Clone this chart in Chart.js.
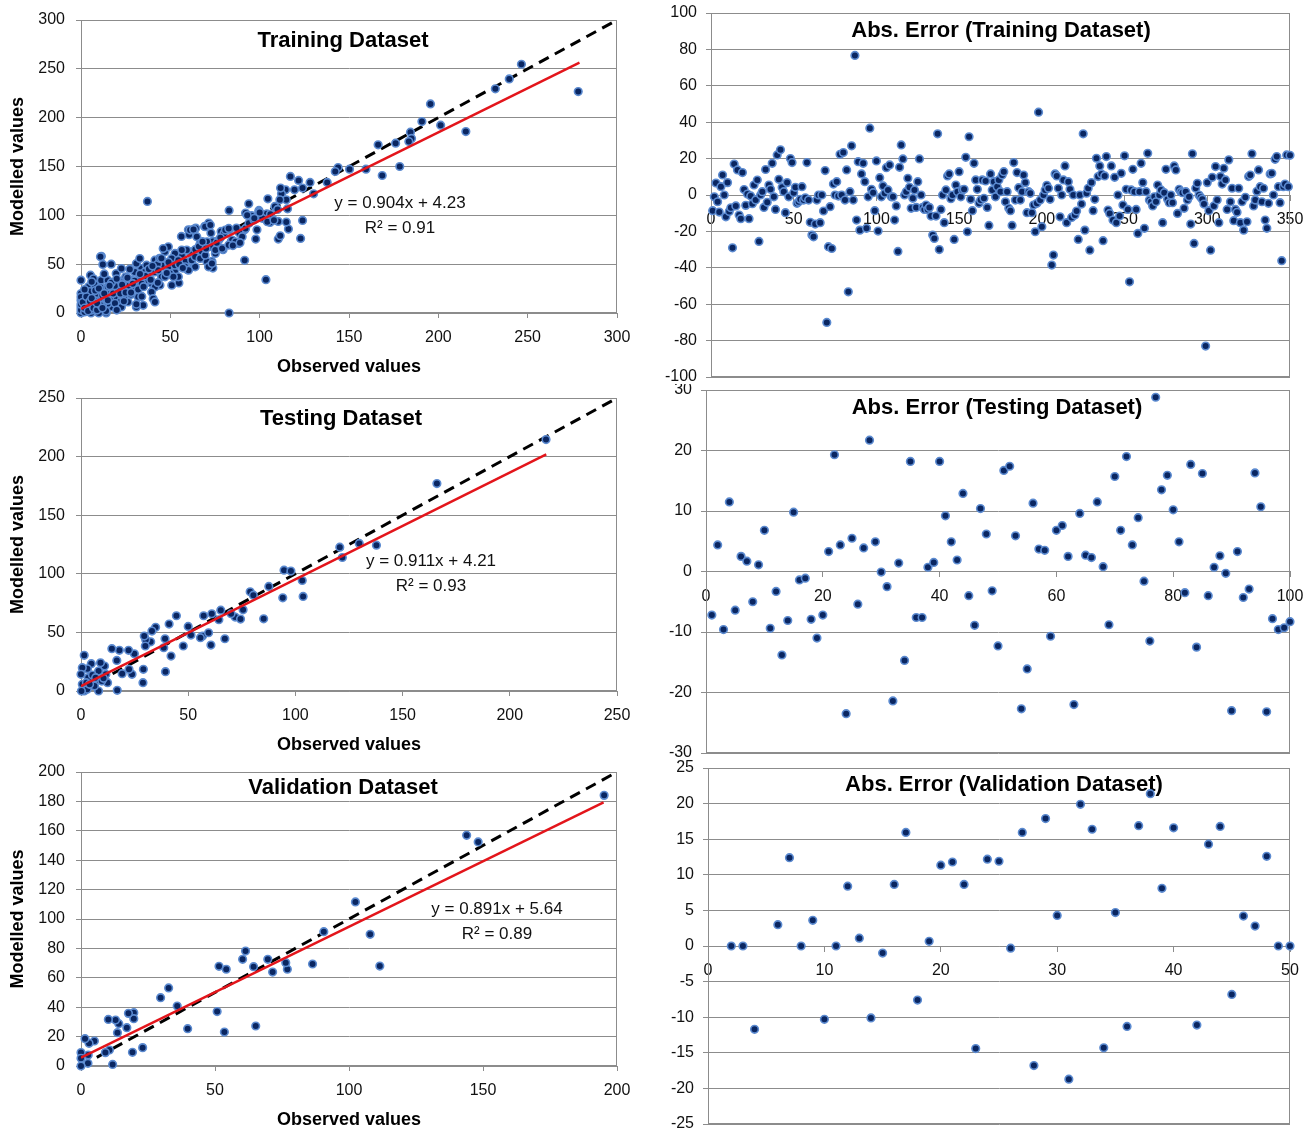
<!DOCTYPE html>
<html>
<head>
<meta charset="utf-8">
<script src="https://cdn.jsdelivr.net/npm/chart.js@4.4.1/dist/chart.umd.min.js"></script>
<style>
  body { margin: 0; background: #fff; }
  #wrap { position: relative; width: 1314px; height: 1131px; overflow: hidden; background: #fff; }
  canvas { position: absolute; }
</style>
</head>
<body>
<div id="wrap">
  <canvas id="trainFit" width="645" height="384" style="left:0;top:0"></canvas>
  <canvas id="testFit" width="645" height="376" style="left:0;top:384px"></canvas>
  <canvas id="valFit" width="645" height="371" style="left:0;top:760px"></canvas>
  <canvas id="trainErrC" width="674" height="384" style="left:640px;top:0"></canvas>
  <canvas id="testErrC" width="674" height="376" style="left:640px;top:384px"></canvas>
  <canvas id="valErrC" width="674" height="371" style="left:640px;top:760px"></canvas>
</div>
<script>
// ---- data ----
// training: observed / modelled
var trainObs = [278.3,246.5,239.7,231.9,195.6,190.8,201.3,215.4,184.4,185,183.5,166.3,176.1,178.4,168.6,159.5,150.3,143.9,142.3,137.8,
  130.2,128.2,124,121.8,122.9,124,117.2,119.5,114.5,112.2,111.7,114.9,115.6,116.1,114.9,111.3,110.4,110.4,111.5,108.5,
  105.8,104.6,103.5,104,99.6,98.5,97.8,95.5,93.9,92.1,91.6,91.6,88.6,82.9,82.9,84.1,82.9,79.5,78.4,73.8,
  72.7,73.3,73.8,70.4,71.5,69.2,64.2,60.1,60.5,56.2,54.8,63.1,59.6,37.2,11.4,
  56.4,61.1,63,64.8,69.5,72.4,66.7,70.5,73.3,77.1,80,80.8,82.7,84.6,88.3,90.2,92.1,94,96.8,99.6,101.5,104.3,
  67.7,75.2,71.4,73.3,63.9,61.1,59.2,56.4,52.6,50.8,48.9,45.1,41.4,37.6,33.8,30.1,26.3,23.5,39.5,45.1,52.6,58.3,62,63.9,66.7,69.5,75.2,79,82.7,86.5,
  10.9,16.9,12.2,5.3,0,4.1,7.5,11.3,15,19.7,22.6,27.3,28.2,31,32.9,36.7,37.6,41.4,42.9,43.2,47,48.9,52.6,54.5,58.3,60.2,54.5,44.2,41.4,39.5,
  40.4,41.4,34.8,32,31,26.3,22.6,20.7,16.9,13.2,9.4,5.6,3.8,0,0,0,0,6.6,7.5,10.3,14.1,17.9,20.7,24.4,32.9,35.7,29.1,18.8,15,1.9,
  14.1,8.5,26.3,31,22.6,47,49.8,51.7,50.8,
  0,0,0,2,4,6,8,10,12,3,5,9,12,11,16,18,21,24,27,30,34,36,28,19,7,13,15,25,38,44,46,49,55,57,64,66,68,70,76,78,85,87,89,93,97,100,106,108,110,
  1,2,3,4,5,6,7,8,9,10,11,13,14,15,17,19,20,22,23,25,26,29,32,33,35,39,40,43,45,48,2,6,9,12,16,20,24,28,31,34];
var trainMod = [226.7,254.7,239.7,229.5,214.1,196,192.3,185.8,185.1,178.7,175.6,172.2,173.9,150,140.8,147.3,147.3,149,144.9,133.7,
  122,133.7,127.9,135.7,76.4,94.8,139.8,126.1,126.1,122,127.9,115.9,106.7,85.9,93.1,115.9,93.8,75.7,79.1,109.1,
  92.7,116.9,34.1,101.6,105,85.2,75.7,99.6,111.8,102.3,85.2,53.9,81.8,0,105,73.3,85.2,64.8,83.5,73.3,
  81.8,52.8,46,52.8,92.1,88.6,86.9,85.2,80.1,78.4,30.7,47.7,44.3,114.2,58,
  59.2,84.9,85.6,78.1,88.4,90.1,71.2,72.9,67.8,74.7,81.5,84.9,86.6,74.7,71.2,78.1,86.6,91.8,95.2,103.8,96.9,93.5,
  62.7,61,47.3,50.7,47.3,62.7,64.4,64.4,61,55.8,47.3,49,42.1,40.4,45.5,42.1,33.6,26.7,30.1,37,42.1,52.4,54.1,57.5,55.8,59.2,64.4,66.1,69.5,72.9,
  57.5,50,49.7,38.7,33.6,26.7,29.5,33.6,33.6,40.4,45.5,44.9,33.6,50.7,55.8,49,33.6,54.1,50,43.8,62.7,67.8,49,54.1,47.3,43.8,37,28.4,26.7,21.6,
  14.7,11.3,7.9,16.4,26.7,21.6,16.4,11.3,6.2,4.5,1,0,2.7,6.2,13,19.9,16.4,19.9,9.6,14.7,21.6,25,30.1,33.6,37,42.1,26.7,16.4,9.6,4.5,
  0,6.2,11.3,6.2,6.2,37,40.4,37,28.4,
  0,3,9,1,8,3,12,0,8,14,22,20,18,26,14,20,24,16,28,33,30,38,19,28,35,40,27,37,45,56,66,52,50,46,65,68,73,66,72,77,69,87,72,100,97,103,101,95,106,
  11,5,17,2,12,15,5,23,3,25,8,20,2,13,31,10,35,20,29,21,36,30,24,40,27,34,48,31,56,41,24,32,10,5,28,3,12,21,9,17];

// testing: observed / modelled
var testObs = [216.9,166,120.7,121.9,129.8,137.8,94.7,97.9,103.2,103.6,94.1,87.6,78.9,80.4,85.2,75.6,71.9,70,74.4,65.2,
  64.3,61,67.1,57.2,56.7,55.7,59.5,60.6,50,51.3,44.5,41.1,42,39.2,38.6,39.4,34.8,33.1,32.5,30.2,
  29.5,30,29.1,28.9,47.7,24.9,23.8,22.4,22.2,19.2,17.9,16.7,14.4,16.9,12.4,11.6,11,9.1,8.2,8.2,
  6.3,4.8,3,1.5,0.6,0,0.6,1.5,2.9,0.2,3.4,5.3,6.8,9.7,2.5,10.5,4];
var testMod = [214.5,177,122.7,113.9,125.9,124.4,103.1,102.3,94.3,80.7,79.5,89.2,84.7,81.8,61.6,69.3,63.1,65.9,61.4,69,
  60.8,65.9,44.6,64.2,46.9,45.5,49.7,39.2,55.1,47.7,64.2,57.1,29.8,44.6,36.9,16.5,54.3,51.1,42,43.8,
  46.9,38.4,18.5,7.1,38.4,31.8,14.2,18.5,34.7,14.8,34.7,26.1,36.1,0.6,7.1,14.2,21.3,24.1,17,0,
  4.3,23.3,19,30.4,19.9,14.2,5.7,0,1.4,0,11.4,13.6,11.4,8.5,7.1,10.8,5.7];

// validation: observed / modelled
var valObs = [195.2,143.9,148.2,102.4,107.9,111.5,90.6,86.4,77,76.4,69.7,71.5,64.4,65.2,61.4,60.3,54.2,51.5,50.8,53.5,
  39.8,35.9,32.7,29.7,23,19.7,19.7,17.7,17.1,19.2,14.1,13.6,12.9,10.2,10.6,9.1,11.8,5,3,1.5,2.7,2.6,0,0,0];
var valMod = [184.1,156.9,152.4,111.6,89.6,68,91.4,69.4,65.8,70.3,72.6,63.9,67.6,27.2,78.2,72.6,65.8,67.8,37,23.1,
  25.4,40.8,53.1,46.5,12.5,36.3,32.2,35.8,26.1,9.3,28.8,22.7,31.3,31.7,10.9,9.1,1.1,17,15.4,18.6,7.5,1.8,9.1,5.2,0];

// fitted lines [slope, intercept], last observed value, R2
var trainFitEq = [0.904, 4.23], trainFitEnd = 279, trainR2 = '0.91';
var testFitEq = [0.911, 4.21], testFitEnd = 217, testR2 = '0.93';
var valFitEq = [0.891, 5.64], valFitEnd = 195, valR2 = '0.89';

// errors (x = record number)
var trainErr = [
  -8.6,-1,6.6,-3.7,-9.4,4.6,11,0,-12,6.8,
  -9,-7,-29,17,-6,13.8,-11,-13,12.3,3,
  -5.7,0.5,-13,-0.5,-4.8,5.5,-2.7,8.2,-25.5,0,1.8,
  -6.8,14,-4,5.5,3.1,17.4,-1,-7.9,22,8.6,
  24.8,4.2,1.8,-9.7,6.8,-1,20,17.8,1.3,4.2,
  -4.6,-3.7,-2.4,4.6,-2.8,-1.5,17.8,-2.8,-15,-22,
  -23,-16,-2.8,0,-15.2,0,-8.8,13.4,-70,-28.4,-6.4,
  -29.4,6,0,7.3,-0.6,22.4,0,23.3,-2.8,13.8,
  -53.2,1.8,27,-2.8,76.7,-13.8,18.3,-19.3,11.6,17.4,
  7.3,-18.3,-1,36.7,3.1,1.3,-8.6,18.7,-19.8,9.5,
  -1,5,0.9,15,2.8,16.5,-1,-1,-13.8,-6,-31,
  15.2,27.5,19.8,0,1.8,9.2,4.2,-7.3,-1.8,2.8,
  -6.8,7.3,19.8,0,-6.8,-7.9,-5.5,-7.9,-6.8,-11.6,
  -22,-23.9,-11.6,33.6,-30,-7.9,0,-15.2,2.8,10.5,
  11.6,-2,0,-24.4,5.5,1.8,12.8,-1,2.8,3.1,20.7,
  -20.2,32,-2.4,-8.6,17.4,8.3,3.1,-4.6,-2.8,8.3,
  -1.8,7.7,-6.8,-16.7,11.6,2.8,7.3,-1,4.6,8.3,
  1.8,11,12.8,-3.7,1.8,-7.3,-8.6,-16.7,17.8,-2.8,
  12.3,4,-2.8,1.8,11,6.8,-9.7,1.8,0.9,-9.7,-5.5,
  -20.2,-4.6,45.5,-2.8,-17.4,0,2.8,5.3,3.7,-2.4,
  -38.5,-33,11.6,10.5,3.7,-12,0,8.3,16,-15.2,
  7.3,3.1,-12.3,0,-11,-8.8,-24.4,0,-5,33.6,
  -19.3,1,3.7,-30.3,6.8,-8.6,-2.4,20.2,10.1,16,11.6,
  -25.1,10.5,21.1,-8.3,-10.1,16,-13.8,9.7,-15.2,0,
  -11.6,11.9,-5.5,21.5,3.1,-7.9,-47.7,2.8,14.1,1.8,
  -7.9,-21.1,1.8,17.4,6.8,-18.3,1.8,22.9,-2.8,-3.7,
  -6,-1,-3.7,5.5,0,2.8,-15.2,1.3,14.1,-2.4,-4.2,
  0,-4.2,16,13.8,-10.1,3.1,1.8,1.3,-7.3,1.8,
  -2.8,-1,-16,22.6,-26.6,3.7,6.4,0,-1.3,-2.4,
  -5,-83,6.8,-8.6,-30.3,9.7,-6,15.6,-2.8,-15.2,
  10.1,6,14.7,8.3,-7.9,19.3,-3.7,3.7,-14.1,-7.9,-9.5,
  3.7,-15.2,-3.7,-19.3,-1.3,-14.7,10.1,11,22.6,-6,
  -2.8,2,13.8,4.6,-3.7,3.7,-13.8,-18.3,-4.6,11.6,11.9,
  0,19.6,21.1,4.6,-4.2,-36.1,4.6,6,22,4.6,21.8];
var testErr = [-7.2,4.4,-9.6,11.5,-6.4,2.5,1.7,-5.0,1.1,6.8,
  -9.4,-3.3,-13.8,-8.1,9.8,-1.4,-1.1,-7.9,-11.0,-7.2,
  3.3,19.3,4.4,-23.5,5.5,-5.4,3.9,21.7,4.9,-0.1,
  -2.5,-21.4,1.4,-14.7,18.2,-7.6,-7.6,0.7,1.5,18.2,
  9.2,4.9,1.9,12.9,-4.0,-8.9,10.4,6.2,-3.2,-12.3,
  16.7,17.4,5.9,-22.7,-16.1,11.3,3.7,3.5,-10.7,6.8,
  7.6,2.5,-22.0,9.6,2.7,2.3,11.5,0.8,-8.8,15.7,
  6.8,19.0,4.4,8.9,-1.6,-11.5,28.8,13.5,15.9,10.2,
  4.9,-3.5,17.7,-12.5,16.2,-4.0,0.7,2.6,-0.3,-23.0,
  3.3,-4.3,-2.9,16.3,10.7,-23.2,-7.8,-9.6,-9.3,-8.3];
var valErrX = [2,3,4,6,7,8,9,10,11,12,13,14,15,16,17,18,19,20,21,22,23,24,25,26,27,28,29,30,31,32,33,34,35,36,37,38,39,40,42,43,44,45,46,47,48,49,50];
var valErr = [0,0,-11.7,3,12.4,0,3.6,-10.3,0,8.4,1.1,-10.1,-1,8.65,15.95,-7.6,0.65,11.35,11.8,8.65,-14.4,12.2,11.9,-0.3,15.95,-16.8,17.9,4.3,-18.7,19.9,16.4,-14.3,4.7,-11.3,16.9,21.4,8.1,16.6,-11.1,14.3,16.8,-6.8,4.2,2.8,12.6,0,0];

// tick labels
var trainTicks = [0,50,100,150,200,250,300];
var testTicks = [0,50,100,150,200,250];
var valXTicks = [0,50,100,150,200];
var valYTicks = [0,20,40,60,80,100,120,140,160,180,200];
var trainErrX = [0,50,100,150,200,250,300,350];
var trainErrY = [-100,-80,-60,-40,-20,0,20,40,60,80,100];
var testErrX = [0,20,40,60,80,100];
var testErrY = [-30,-20,-10,0,10,20,30];
var valErrXT = [0,10,20,30,40,50];
var valErrY = [-25,-20,-15,-10,-5,0,5,10,15,20,25];

var FONT = "'Liberation Sans', Arial, sans-serif";
var GRID = '#8c8c8c';
var NAVY = '#0a2661';
var EDGE = '#5b8ad0';

// box, panel title and equation text
var deco = {
  id: 'deco',
  beforeDatasetsDraw: function (chart, args, o) {
    var ctx = chart.ctx, a = chart.chartArea;
    ctx.save();
    ctx.strokeStyle = GRID;
    ctx.lineWidth = 1;
    ctx.strokeRect(Math.round(a.left) + 0.5, Math.round(a.top) + 0.5,
      Math.round(a.right - a.left) - 1, Math.round(a.bottom - a.top) - 1);
    ctx.fillStyle = '#000';
    ctx.textAlign = 'center';
    ctx.textBaseline = 'middle';
    ctx.font = 'bold 22px ' + FONT;
    ctx.fillText(o.title, o.tx, o.ty);
    if (o.eq) {
      ctx.font = '17px ' + FONT;
      ctx.fillStyle = '#111';
      ctx.fillText(o.eq[0], o.ex, o.ey);
      ctx.fillText(o.eq[1], o.ex, o.ey + 25);
    }
    ctx.restore();
  }
};

function tickList(arr) {
  return function (s) { s.ticks = arr.map(function (v) { return { value: v }; }); };
}

function fitPanel(id, p) {
  var pts = p.obs.map(function (x, i) { return { x: x, y: p.mod[i] }; });
  var top = p.xt[p.xt.length - 1];
  var fit = [{ x: 0, y: p.eq[1] }, { x: p.end, y: p.eq[0] * p.end + p.eq[1] }];
  new Chart(document.getElementById(id), {
    type: 'scatter',
    data: {
      datasets: [
        { data: fit, showLine: true, borderColor: '#e3151b', borderWidth: 2.5, pointRadius: 0, order: 0 },
        { data: pts, pointRadius: 3.8, pointBackgroundColor: NAVY, pointBorderColor: EDGE,
          pointBorderWidth: 1.6, clip: false, order: 1 },
        { data: [{ x: 0, y: 0 }, { x: top, y: top }], showLine: true, borderColor: '#000',
          borderWidth: 3, borderDash: [11, 7], pointRadius: 0, order: 2 }
      ]
    },
    options: {
      responsive: false,
      animation: false,
      layout: { padding: { left: 0, top: p.area[1], right: p.w - p.area[2], bottom: 0 } },
      plugins: {
        legend: { display: false },
        tooltip: { enabled: false },
        deco: { title: p.title, tx: p.tx, ty: p.ty,
          eq: ['y = ' + p.eq[0] + 'x + ' + p.eq[1], 'R\u00b2 = ' + p.r2], ex: p.ex, ey: p.ey }
      },
      scales: {
        x: {
          type: 'linear', min: p.xt[0], max: top,
          afterBuildTicks: tickList(p.xt),
          afterFit: function (s) { s.height = p.h - p.area[3]; s.paddingLeft = 0; s.paddingRight = 0; },
          grid: { drawOnChartArea: false, color: GRID, tickLength: 5 },
          border: { color: GRID },
          ticks: { font: { family: FONT, size: 16 }, color: '#111', padding: 10, maxRotation: 0 },
          title: { display: true, text: 'Observed values', color: '#000',
            font: { family: FONT, size: 18, weight: 'bold' }, padding: { top: 0, bottom: p.xtp } }
        },
        y: {
          type: 'linear', min: p.yt[0], max: p.yt[p.yt.length - 1],
          afterBuildTicks: tickList(p.yt),
          afterFit: function (s) { s.width = p.area[0]; s.paddingTop = 0; s.paddingBottom = 0; },
          grid: { color: GRID, tickLength: 5 },
          border: { color: GRID },
          ticks: { font: { family: FONT, size: 16 }, color: '#111', padding: 11 },
          title: { display: true, text: 'Modelled values', color: '#000',
            font: { family: FONT, size: 18, weight: 'bold' }, padding: { top: 7, bottom: 0 } }
        }
      }
    },
    plugins: [deco]
  });
}

function errPanel(id, p) {
  var pts = p.y.map(function (v, i) { return { x: p.x ? p.x[i] : i + 1, y: v }; });
  new Chart(document.getElementById(id), {
    type: 'scatter',
    data: {
      datasets: [{ data: pts, pointRadius: 3.8, pointBackgroundColor: NAVY, pointBorderColor: EDGE,
        pointBorderWidth: 1.6, clip: false }]
    },
    options: {
      responsive: false,
      animation: false,
      layout: { padding: { left: 0, top: p.area[1], right: p.w - p.area[2], bottom: p.h - p.area[3] } },
      plugins: {
        legend: { display: false },
        tooltip: { enabled: false },
        deco: { title: p.title, tx: p.tx, ty: p.ty }
      },
      scales: {
        x: {
          type: 'linear', position: { y: 0 }, min: p.xt[0], max: p.xt[p.xt.length - 1],
          afterBuildTicks: tickList(p.xt),
          afterFit: function (s) { s.paddingLeft = 0; s.paddingRight = 0; },
          grid: { drawOnChartArea: false, color: GRID, tickLength: 5 },
          border: { color: GRID },
          ticks: { font: { family: FONT, size: 16 }, color: '#111', padding: 10, maxRotation: 0 }
        },
        y: {
          type: 'linear', min: p.yt[0], max: p.yt[p.yt.length - 1],
          afterBuildTicks: tickList(p.yt),
          afterFit: function (s) { s.width = p.area[0]; s.paddingTop = 0; s.paddingBottom = 0; },
          grid: { color: GRID, tickLength: 5 },
          border: { color: GRID },
          ticks: { font: { family: FONT, size: 16 }, color: '#111', padding: 9 }
        }
      }
    },
    plugins: [deco]
  });
}

fitPanel('trainFit', { obs: trainObs, mod: trainMod, eq: trainFitEq, end: trainFitEnd, r2: trainR2,
  xt: trainTicks, yt: trainTicks, w: 645, h: 384, area: [81, 20, 617, 313], xtp: 6,
  title: 'Training Dataset', tx: 343, ty: 41, ex: 400, ey: 203 });
fitPanel('testFit', { obs: testObs, mod: testMod, eq: testFitEq, end: testFitEnd, r2: testR2,
  xt: testTicks, yt: testTicks, w: 645, h: 376, area: [81, 14, 617, 307], xtp: 4,
  title: 'Testing Dataset', tx: 341, ty: 35, ex: 431, ey: 177 });
fitPanel('valFit', { obs: valObs, mod: valMod, eq: valFitEq, end: valFitEnd, r2: valR2,
  xt: valXTicks, yt: valYTicks, w: 645, h: 371, area: [81, 12, 617, 306], xtp: 0,
  title: 'Validation Dataset', tx: 343, ty: 28, ex: 497, ey: 149 });

errPanel('trainErrC', { y: trainErr, xt: trainErrX, yt: trainErrY, w: 674, h: 384, area: [71, 13, 650, 377],
  title: 'Abs. Error (Training Dataset)', tx: 361, ty: 31 });
errPanel('testErrC', { y: testErr, xt: testErrX, yt: testErrY, w: 674, h: 376, area: [66, 6, 650, 369],
  title: 'Abs. Error (Testing Dataset)', tx: 357, ty: 24 });
errPanel('valErrC', { x: valErrX, y: valErr, xt: valErrXT, yt: valErrY, w: 674, h: 371, area: [68, 8, 650, 364],
  title: 'Abs. Error (Validation Dataset)', tx: 364, ty: 25 });
</script>
</body>
</html>
